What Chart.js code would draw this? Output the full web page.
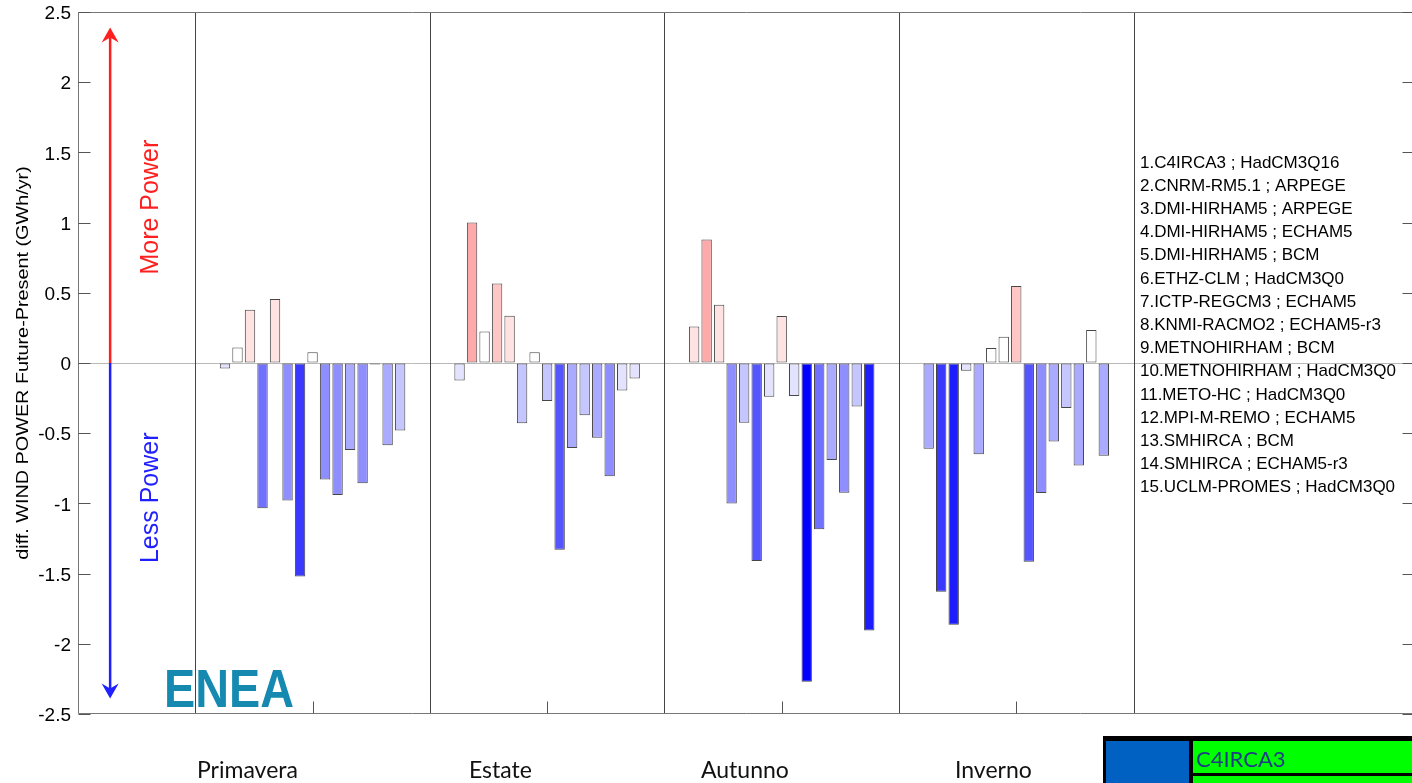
<!DOCTYPE html>
<html>
<head>
<meta charset="utf-8">
<script src="https://cdn.jsdelivr.net/npm/chart.js@4.4.1/dist/chart.umd.min.js"></script>
<style>
  html, body { margin: 0; padding: 0; background: #fff; overflow: hidden; width: 1412px; height: 783px; }
  canvas { display: block; }
</style>
</head>
<body>
<canvas id="c" width="1420" height="783"></canvas>
<script>
// Seasons and their positions on the x axis
const seasons = ['Primavera', 'Estate', 'Autunno', 'Inverno'];
const seasonPos = [1, 2, 3, 4];

// Regional climate model ; driving global model
const models = [
  'C4IRCA3 ; HadCM3Q16',
  'CNRM-RM5.1 ; ARPEGE',
  'DMI-HIRHAM5 ; ARPEGE',
  'DMI-HIRHAM5 ; ECHAM5',
  'DMI-HIRHAM5 ; BCM',
  'ETHZ-CLM ; HadCM3Q0',
  'ICTP-REGCM3 ; ECHAM5',
  'KNMI-RACMO2 ; ECHAM5-r3',
  'METNOHIRHAM ; BCM',
  'METNOHIRHAM ; HadCM3Q0',
  'METO-HC ; HadCM3Q0',
  'MPI-M-REMO ; ECHAM5',
  'SMHIRCA ; BCM',
  'SMHIRCA ; ECHAM5-r3',
  'UCLM-PROMES ; HadCM3Q0'
];

// Wind power difference future - present (GWh/yr), one value per model
const primavera = [-0.04, 0.11, 0.38, -1.035, 0.455, -0.98, -1.52, 0.076, -0.83, -0.94, -0.62, -0.857, -0.01, -0.586, -0.48];
const estate    = [-0.125, 1.0, 0.225, 0.567, 0.337, -0.43, 0.076, -0.27, -1.33, -0.605, -0.373, -0.532, -0.807, -0.195, -0.11];
const autunno   = [0.26, 0.88, 0.415, -1.0, -0.425, -1.41, -0.24, 0.335, -0.235, -2.27, -1.185, -0.69, -0.925, -0.31, -1.905];
const inverno   = [-0.61, -1.63, -1.865, -0.055, -0.65, 0.107, 0.187, 0.548, -1.415, -0.926, -0.56, -0.32, -0.73, 0.235, -0.66];
const seasonValues = [primavera, estate, autunno, inverno];

// Value axis
const yMin = -2.5, yMax = 2.5, yStep = 0.5;
const yTitle = 'diff. WIND POWER Future-Present (GWh/yr)';
const moreLabel = 'More Power';
const lessLabel = 'Less Power';
const logoText = 'ENEA';
const sheetCell = 'C4IRCA3';

// Stepped red/blue colour scale (0.25 GWh/yr per step)
function shade(v) {
  if (v < 0) {
    const lvl = Math.min(9, Math.ceil(-v / 0.25));
    const c = Math.round(255 * (1 - lvl / 9));
    return `rgb(${c},${c},255)`;
  }
  const lvl = Math.max(0, Math.ceil(v / 0.25) - 1);
  const c = Math.round(255 * (1 - lvl / 9));
  return `rgb(255,${c},${c})`;
}

const datasets = models.map((m, i) => ({
  label: `${i + 1}.${m}`,
  data: seasonPos.map((x, s) => ({ x, y: seasonValues[s][i] })),
  backgroundColor: ctx => shade(ctx.raw.y),
  borderColor: 'rgba(50,50,50,0.9)',
  borderWidth: 1,
  borderSkipped: false,
  categoryPercentage: 0.8,
  barPercentage: 0.83
}));

const ARIAL = "'Liberation Sans', Arial, sans-serif";
const CALIBRI = "Lato, 'Open Sans', sans-serif";

const decor = {
  id: 'decor',
  beforeDatasetsDraw(chart) {
    const { ctx, chartArea: a, scales: { x } } = chart;
    const dividers = seasonPos.map(p => p - 0.5).concat(seasonPos[seasonPos.length - 1] + 0.5);
    ctx.save();
    ctx.strokeStyle = '#444';
    ctx.lineWidth = 1;
    dividers.forEach(v => {
      const px = Math.round(x.getPixelForValue(v)) + 0.5;
      ctx.beginPath(); ctx.moveTo(px, a.top); ctx.lineTo(px, a.bottom); ctx.stroke();
    });
    ctx.restore();
  },
  afterDatasetsDraw(chart) {
    const { ctx, chartArea: a, scales: { x, y } } = chart;
    ctx.save();
    // axes box
    ctx.strokeStyle = '#777';
    ctx.lineWidth = 1;
    const L = Math.round(a.left) + 0.5, R = Math.round(a.right) - 0.5;
    const T = Math.round(a.top) + 0.5, B = Math.round(a.bottom) - 0.5;
    ctx.beginPath();
    ctx.moveTo(L, T); ctx.lineTo(R, T); ctx.lineTo(R, B); ctx.lineTo(L, B); ctx.closePath();
    ctx.stroke();
    // inward tick marks
    ctx.strokeStyle = '#555';
    for (let v = yMin; v <= yMax + 1e-9; v += yStep) {
      const py = Math.round(y.getPixelForValue(v)) + 0.5;
      ctx.beginPath(); ctx.moveTo(L, py); ctx.lineTo(L + 12, py); ctx.stroke();
      ctx.beginPath(); ctx.moveTo(R, py); ctx.lineTo(R - 12, py); ctx.stroke();
    }
    seasonPos.forEach(v => {
      const px = Math.round(x.getPixelForValue(v)) + 0.5;
      ctx.beginPath(); ctx.moveTo(px, B); ctx.lineTo(px, B - 12); ctx.stroke();
    });

    // more / less power arrows
    const ax = x.getPixelForValue(0.137);
    const y0 = y.getPixelForValue(0);
    const drawArrow = (tipVal, color) => {
      const tip = y.getPixelForValue(tipVal);
      const d = tip < y0 ? 1 : -1;
      ctx.strokeStyle = color; ctx.fillStyle = color; ctx.lineWidth = 2.5;
      ctx.beginPath(); ctx.moveTo(ax, y0); ctx.lineTo(ax, tip + 8 * d); ctx.stroke();
      ctx.beginPath();
      ctx.moveTo(ax, tip);
      ctx.lineTo(ax - 8.5, tip + 15 * d);
      ctx.lineTo(ax, tip + 10 * d);
      ctx.lineTo(ax + 8.5, tip + 15 * d);
      ctx.closePath(); ctx.fill();
    };
    drawArrow(2.39, '#ff1f1f');
    drawArrow(-2.39, '#1f1fff');

    const vText = (txt, xv, yv, color, font, sx) => {
      ctx.save();
      ctx.translate(x.getPixelForValue(xv), y.getPixelForValue(yv));
      ctx.rotate(-Math.PI / 2);
      ctx.scale(sx || 1, 1);
      ctx.fillStyle = color; ctx.font = font;
      ctx.textAlign = 'center'; ctx.textBaseline = 'middle';
      ctx.fillText(txt, 0, 0);
      ctx.restore();
    };
    vText(moreLabel, 0.31, 1.11, '#ff1f1f', `25px ${ARIAL}`);
    vText(lessLabel, 0.31, -0.96, '#1f1fff', `25px ${ARIAL}`);

    // model list
    ctx.fillStyle = '#000';
    ctx.font = `17px ${ARIAL}`;
    ctx.textAlign = 'left'; ctx.textBaseline = 'middle';
    datasets.forEach((ds, i) => ctx.fillText(ds.label, 1140, 163 + i * 23.2));

    // ENEA logo lettering
    ctx.save();
    ctx.font = `bold 52px ${ARIAL}`;
    const w = ctx.measureText(logoText).width;
    ctx.translate(164, 707);
    ctx.scale(130 / w, 1.04);
    ctx.fillStyle = '#1589b0';
    ctx.textAlign = 'left'; ctx.textBaseline = 'alphabetic';
    ctx.fillText(logoText, 0, 0);
    ctx.restore();
    ctx.restore();
  },
  afterDraw(chart) {
    const { ctx } = chart;
    ctx.save();
    // y axis title
    ctx.translate(23, chart.scales.y.getPixelForValue(0));
    ctx.rotate(-Math.PI / 2);
    ctx.scale(1.2, 1);
    ctx.font = `16.5px ${ARIAL}`;
    ctx.fillStyle = '#000';
    ctx.textAlign = 'center'; ctx.textBaseline = 'middle';
    ctx.fillText(yTitle, 0, 0);
    ctx.restore();

    // season captions
    ctx.save();
    ctx.font = `23px ${CALIBRI}`;
    ctx.fillStyle = '#111';
    ctx.textAlign = 'left'; ctx.textBaseline = 'alphabetic';
    const capLeft = [197, 469, 701, 955];
    seasons.forEach((s, i) => ctx.fillText(s, capLeft[i], 778));

    // spreadsheet cells
    ctx.fillStyle = '#000';
    ctx.fillRect(1103, 736, 320, 47);
    ctx.fillStyle = '#0061c3';
    ctx.fillRect(1106, 741, 83, 42);
    ctx.fillStyle = '#00ff00';
    ctx.fillRect(1193, 741, 230, 32);
    ctx.fillRect(1193, 776, 230, 7);
    ctx.fillStyle = '#1f3c88';
    ctx.font = `22px ${CALIBRI}`;
    ctx.fillText(sheetCell, 1196, 767);
    ctx.restore();
  }
};

new Chart(document.getElementById('c'), {
  type: 'bar',
  data: { datasets },
  options: {
    responsive: false,
    animation: false,
    devicePixelRatio: 1,
    layout: { padding: { top: 12, right: 5, left: 0, bottom: 0 } },
    plugins: { legend: { display: false }, tooltip: { enabled: false } },
    scales: {
      x: {
        type: 'linear',
        min: 0,
        max: 5.7,
        offset: false,
        grid: { display: false, offset: false },
        border: { display: false },
        ticks: { display: false },
        afterBuildTicks(s) { s.ticks = seasonPos.map(v => ({ value: v })); },
        afterFit(s) { s.height = 69; }
      },
      y: {
        min: yMin,
        max: yMax,
        ticks: {
          stepSize: yStep,
          color: '#000',
          font: { family: ARIAL, size: 19 },
          padding: 7,
          labelOffset: 2,
          callback: v => String(Math.round(v * 10) / 10)
        },
        grid: {
          drawTicks: false,
          color: c => (c.tick && c.tick.value === 0) ? '#b9b9b9' : 'rgba(0,0,0,0)',
          lineWidth: 1
        },
        border: { display: false },
        afterFit(s) { s.width = 78; s.paddingTop = 0; s.paddingBottom = 0; }
      }
    }
  },
  plugins: [decor]
});
</script>
</body>
</html>
